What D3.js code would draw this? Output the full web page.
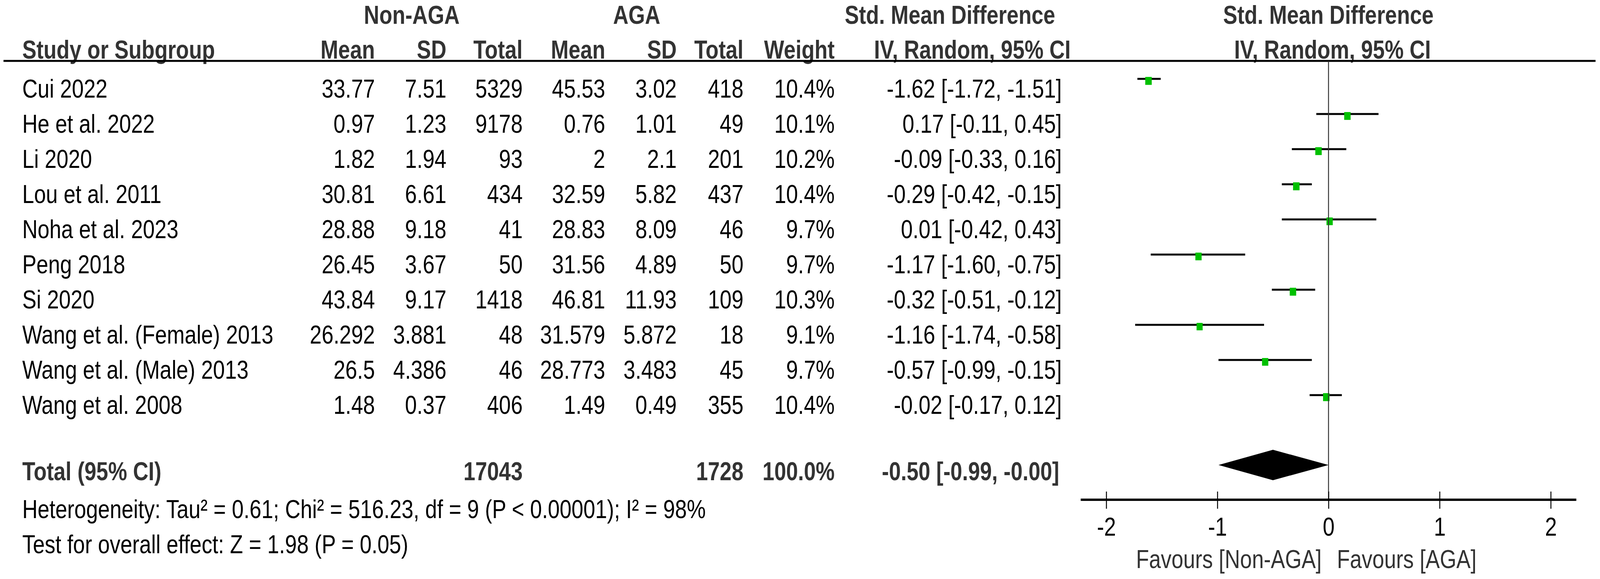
<!DOCTYPE html>
<meta charset="utf-8">
<style>

html, body {
  margin: 0;
  padding: 0;
  overflow: hidden;
  background-color: white;
}

svg {
  display: block;
  width: 100vw;
  height: 100vh;
}

text {
  font-family: "Liberation Sans", Arial, sans-serif;
  font-size: 67px;
}

.hdr {
  font-weight: bold;
  fill: #333;
}

</style>
<body>

<div id="chart"></div>

<script src="https://cdn.jsdelivr.net/npm/d3@7"></script>
<script>

// data
var studies = ["Cui 2022", "He et al. 2022", "Li 2020", "Lou et al. 2011", "Noha et al. 2023",
               "Peng 2018", "Si 2020", "Wang et al. (Female) 2013", "Wang et al. (Male) 2013", "Wang et al. 2008"];
var nonMean  = ["33.77", "0.97", "1.82", "30.81", "28.88", "26.45", "43.84", "26.292", "26.5", "1.48"];
var nonSD    = ["7.51", "1.23", "1.94", "6.61", "9.18", "3.67", "9.17", "3.881", "4.386", "0.37"];
var nonTotal = [5329, 9178, 93, 434, 41, 50, 1418, 48, 46, 406];
var agaMean  = ["45.53", "0.76", "2", "32.59", "28.83", "31.56", "46.81", "31.579", "28.773", "1.49"];
var agaSD    = ["3.02", "1.01", "2.1", "5.82", "8.09", "4.89", "11.93", "5.872", "3.483", "0.49"];
var agaTotal = [418, 49, 201, 437, 46, 50, 109, 18, 45, 355];
var weights  = [10.4, 10.1, 10.2, 10.4, 9.7, 9.7, 10.3, 9.1, 9.7, 10.4];
var smd      = [-1.62, 0.17, -0.09, -0.29, 0.01, -1.17, -0.32, -1.16, -0.57, -0.02];
var ciLow    = [-1.72, -0.11, -0.33, -0.42, -0.42, -1.60, -0.51, -1.74, -0.99, -0.17];
var ciHigh   = [-1.51, 0.45, 0.16, -0.15, 0.43, -0.75, -0.12, -0.58, -0.15, 0.12];

var totalN      = [17043, 1728];
var totalWeight = "100.0%";
var totalSmd    = [-0.50, -0.99, -0.00];   // estimate, low, high
var totalLabel  = "-0.50 [-0.99, -0.00]";
var xTicks = [-2, -1, 0, 1, 2];
var heterogeneity = "Heterogeneity: Tau\u00b2 = 0.61; Chi\u00b2 = 516.23, df = 9 (P < 0.00001); I\u00b2 = 98%";
var overall = "Test for overall effect: Z = 1.98 (P = 0.05)";

var W = 5036, H = 1483;

// drawn in a 5036x1483 frame, stretched to whatever the window is
var svg = d3.select("#chart").append("svg")
  .attr("viewBox", "0 0 " + W + " " + H)
  .attr("preserveAspectRatio", "none");

var x = d3.scaleLinear().domain([-2, 2]).range([3482, 4881]);
var row = d3.scaleLinear().domain([0, 9]).range([250, 1060]);   // text baselines
var plotOff = -48;   // CI line sits above the text baseline

function fmt(v) { return v.toFixed(2); }
function ciText(m, l, h) { return fmt(m) + " [" + fmt(l) + ", " + fmt(h) + "]"; }

// columns (right edge of text)
var cols = {name: 70, nMean: 1180, nSD: 1405, nTot: 1645, aMean: 1905, aSD: 2130, aTot: 2340, wt: 2627, ci: 3342};

// --- header
function hdr(txt, xx, yy, anchor) {
  svg.append("text").attr("class", "hdr")
    .attr("x", xx).attr("y", yy)
    .attr("text-anchor", anchor)
    .text(txt);
}
hdr("Non-AGA", 1296, 61, "middle");
hdr("AGA", 2004, 61, "middle");
hdr("Std. Mean Difference", 2990, 61, "middle");
hdr("Std. Mean Difference", 4181, 61, "middle");
hdr("Study or Subgroup", cols.name, 150, "start");
hdr("Mean", cols.nMean, 150, "end");
hdr("SD", cols.nSD, 150, "end");
hdr("Total", cols.nTot, 150, "end");
hdr("Mean", cols.aMean, 150, "end");
hdr("SD", cols.aSD, 150, "end");
hdr("Total", cols.aTot, 150, "end");
hdr("Weight", cols.wt, 150, "end");
hdr("IV, Random, 95% CI", 3370, 150, "end");
hdr("IV, Random, 95% CI", 4194, 150, "middle");

svg.append("line")
  .attr("x1", 11).attr("x2", 5022)
  .attr("y1", 156).attr("y2", 156)
  .style("stroke", "black").style("stroke-width", 5);

// --- study rows
var rows = svg.selectAll("g.row")
  .data(studies)
  .enter().append("g")
  .attr("class", "row");

function col(arr, xx, anchor) {
  rows.append("text")
    .attr("x", xx)
    .attr("y", function(d, i) { return row(i); })
    .attr("text-anchor", anchor)
    .style("fill", "black")
    .text(function(d, i) { return arr[i]; });
}
col(studies, cols.name, "start");
col(nonMean, cols.nMean, "end");
col(nonSD, cols.nSD, "end");
col(nonTotal, cols.nTot, "end");
col(agaMean, cols.aMean, "end");
col(agaSD, cols.aSD, "end");
col(agaTotal, cols.aTot, "end");
col(weights.map(function(w) { return w.toFixed(1) + "%"; }), cols.wt, "end");
col(smd.map(function(m, i) { return ciText(m, ciLow[i], ciHigh[i]); }), cols.ci, "end");

// zero line
svg.append("line")
  .attr("x1", x(0)).attr("x2", x(0))
  .attr("y1", 157).attr("y2", 1280)
  .style("stroke", "#333").style("stroke-width", 3);

// CI lines and squares
rows.append("line")
  .attr("x1", function(d, i) { return x(ciLow[i]); })
  .attr("x2", function(d, i) { return x(ciHigh[i]); })
  .attr("y1", function(d, i) { return row(i) + plotOff; })
  .attr("y2", function(d, i) { return row(i) + plotOff; })
  .style("stroke", "black").style("stroke-width", 5);

function side(i) { return 20 * Math.sqrt(weights[i] / 10); }
rows.append("rect")
  .attr("width", function(d, i) { return side(i); })
  .attr("height", function(d, i) { return side(i); })
  .attr("x", function(d, i) { return x(smd[i]) - side(i) / 2; })
  .attr("y", function(d, i) { return row(i) + plotOff - 5; })
  .style("fill", "#00c000");

// --- total row
var totY = 1230;
function totText(txt, xx, anchor) {
  svg.append("text")
    .attr("x", xx).attr("y", totY)
    .attr("text-anchor", anchor)
    .style("font-weight", "bold").style("fill", "#333")
    .text(txt);
}
totText("Total (95% CI)", cols.name, "start");
totText(totalN[0], cols.nTot, "end");
totText(totalN[1], cols.aTot, "end");
totText(totalWeight, cols.wt, "end");
totText(totalLabel, cols.ci - 8, "end");

var dy = 1191, dh = 39;
svg.append("path")
  .attr("d", "M" + x(totalSmd[1]) + "," + dy +
             "L" + x(totalSmd[0]) + "," + (dy - dh) +
             "L" + x(totalSmd[2]) + "," + dy +
             "L" + x(totalSmd[0]) + "," + (dy + dh) + "Z")
  .style("fill", "black");

svg.append("text").attr("x", cols.name).attr("y", 1327).style("fill", "black").text(heterogeneity);
svg.append("text").attr("x", cols.name).attr("y", 1417).style("fill", "black").text(overall);

// --- axis
var axisY = 1280;
var axis = svg.append("g")
  .attr("transform", "translate(0," + axisY + ")")
  .call(d3.axisBottom(x).tickValues(xTicks).tickSize(0).tickFormat(function(d) { return String(d); }));

axis.select(".domain").remove();
axis.append("line")
  .attr("x1", x(-2.23)).attr("x2", x(2.23))
  .attr("y1", 0).attr("y2", 0)
  .style("stroke", "black").style("stroke-width", 6);
axis.selectAll(".tick line")
  .attr("y1", -21).attr("y2", 23)
  .style("stroke", "black").style("stroke-width", 3);
axis.selectAll(".tick text")
  .attr("y", 92).attr("dy", null)
  .style("font-size", "67px")
  .style("font-family", "\"Liberation Sans\", Arial, sans-serif")
  .style("fill", "black");

svg.append("text").attr("x", 4160).attr("y", 1455).attr("text-anchor", "end")
  .style("fill", "#333").text("Favours [Non-AGA]");
svg.append("text").attr("x", 4208).attr("y", 1455).attr("text-anchor", "start")
  .style("fill", "#333").text("Favours [AGA]");

</script>
